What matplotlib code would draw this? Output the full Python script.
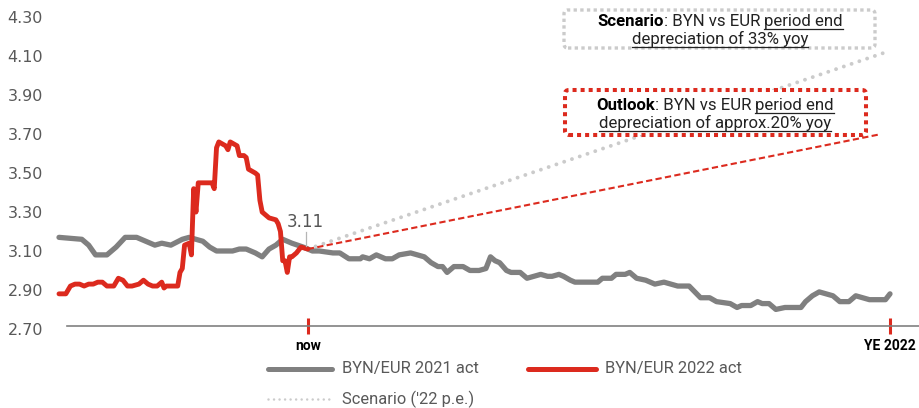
import matplotlib
matplotlib.use("Agg")
import matplotlib.pyplot as plt
from matplotlib.lines import Line2D
from matplotlib.patches import FancyBboxPatch
from matplotlib.transforms import IdentityTransform

W, H, DPI = 919, 408, 100

# ---------------- data ----------------
days_2021 = [0, 10, 13, 16, 21, 25, 29, 34, 38, 42, 45, 49, 54, 57, 60, 63, 66, 69, 76, 79,
             82, 86, 89, 92, 95, 98, 102, 107, 111, 114, 120, 123, 127, 132, 133, 136, 139, 143, 146, 149,
             154, 157, 160, 163, 166, 168, 170, 173, 177, 180, 184, 187, 189, 191, 193, 196, 198, 202, 205, 208,
             211, 214, 216, 219, 221, 224, 226, 229, 233, 236, 238, 242, 244, 248, 250, 253, 257, 259, 261, 265,
             268, 271, 276, 281, 285, 288, 294, 297, 299, 303, 306, 308, 311, 314, 318, 325, 327, 330, 333, 339,
             342, 346, 349, 352, 355, 362, 364]
byn_eur_2021 = [3.17, 3.16, 3.13, 3.08, 3.08, 3.12, 3.17, 3.17, 3.15, 3.13, 3.14, 3.13, 3.16, 3.17, 3.16, 3.15, 3.12, 3.10, 3.10, 3.11,
                3.11, 3.09, 3.07, 3.11, 3.13, 3.16, 3.14, 3.12, 3.10, 3.10, 3.09, 3.09, 3.06, 3.06, 3.07, 3.06, 3.08, 3.06, 3.06, 3.08,
                3.09, 3.08, 3.07, 3.04, 3.02, 3.02, 2.99, 3.02, 3.02, 3.00, 3.00, 3.01, 3.07, 3.05, 3.04, 3.00, 2.99, 2.99, 2.96, 2.97,
                2.98, 2.97, 2.97, 2.98, 2.97, 2.95, 2.94, 2.94, 2.94, 2.94, 2.96, 2.96, 2.98, 2.98, 2.99, 2.96, 2.95, 2.94, 2.93, 2.94,
                2.93, 2.92, 2.92, 2.86, 2.86, 2.84, 2.83, 2.81, 2.82, 2.82, 2.84, 2.83, 2.83, 2.80, 2.81, 2.81, 2.84, 2.87, 2.89, 2.87,
                2.84, 2.84, 2.87, 2.86, 2.85, 2.85, 2.88]

days_2022 = [0, 3, 5, 7, 9, 11, 13, 15, 17, 19, 21, 24, 26, 28, 30, 32, 35, 37, 39, 41,
             43, 45, 46, 47, 52, 53, 54, 55, 57, 58, 59, 60, 61, 67, 68, 69, 70, 73, 74, 75,
             78, 79, 81, 82, 83, 86, 87, 88, 89, 92, 95, 96, 97, 98, 99, 100, 101, 102, 104, 106, 109]
byn_eur_2022 = [2.88, 2.88, 2.92, 2.93, 2.93, 2.92, 2.93, 2.93, 2.94, 2.94, 2.92, 2.92, 2.96, 2.95, 2.92, 2.92, 2.93, 2.95, 2.93, 2.92,
                2.92, 2.94, 2.91, 2.92, 2.92, 2.99, 3.01, 3.13, 3.14, 3.08, 3.42, 3.30, 3.45, 3.45, 3.42, 3.63, 3.66, 3.64, 3.62, 3.66,
                3.64, 3.59, 3.59, 3.58, 3.52, 3.50, 3.49, 3.36, 3.30, 3.27, 3.26, 3.24, 3.20, 3.05, 3.05, 2.99, 3.07, 3.07, 3.09, 3.12, 3.11]

now_day, now_value = 109, 3.11
outlook_days = [109, 360]
outlook_values = [3.11, 3.70]
scenario_days = [109, 362]
scenario_values = [3.11, 4.12]

y_ticks = [2.70, 2.90, 3.10, 3.30, 3.50, 3.70, 3.90, 4.10, 4.30]
x_tick_days = [109, 364]
x_tick_labels = ["now", "YE 2022"]
legend_labels = ["BYN/EUR 2021 act", "BYN/EUR 2022 act", "Scenario ('22 p.e.)"]
scenario_note = [[("Scenario", "bold", False, False), (": BYN vs EUR", "normal", False, False), ("period end", "normal", True, True)],
                 [("depreciation of 33% yoy", "normal", True, False)]]
outlook_note = [[("Outlook", "bold", False, False), (": BYN vs EUR", "normal", False, False), ("period end", "normal", True, True)],
                [("depreciation of approx.20% yoy", "normal", True, False)]]

# ---------------- style ----------------
GRAY = "#808080"
RED = "#DC2A1E"
LIGHT = "#cbcbcb"
TXT = "#595959"
FONT = "Roboto"

fig = plt.figure(figsize=(W / DPI, H / DPI), dpi=DPI)
ax = fig.add_axes([50 / W, (H - 340) / H, (W - 50) / W, 335 / H])
ax.set_xlim(-3.94, 376.7)
ax.set_ylim(2.643, 4.363)

ax.plot(scenario_days, scenario_values, color=LIGHT, lw=2.8, linestyle=(0, (0.01, 2.1)),
        dash_capstyle="round", zorder=2)
ax.plot(days_2021, byn_eur_2021, color=GRAY, lw=3.8, solid_joinstyle="round", solid_capstyle="round", zorder=3)
ax.plot(days_2022, byn_eur_2022, color=RED, lw=3.5, solid_joinstyle="round", solid_capstyle="round", zorder=4)
ax.plot(outlook_days, outlook_values, color=RED, lw=1.5, dashes=(3, 1.6), zorder=5)

ax.text(now_day - 1, 3.25, f"{now_value:.2f}", ha="center", va="center", fontsize=12,
        color="#555555", family="DejaVu Sans")
ax.plot([now_day - 1, now_day - 1], [3.198, 3.125], color="#b5b5b5", lw=0.9, zorder=6)

for s in ["top", "right", "left"]:
    ax.spines[s].set_visible(False)
ax.spines["bottom"].set_position(("data", 2.717))
ax.spines["bottom"].set_bounds(3.5, 376.7)
ax.spines["bottom"].set_color(GRAY)
ax.spines["bottom"].set_linewidth(1.2)

ax.set_yticks(y_ticks)
ax.set_yticklabels([f"{v:.2f}" for v in y_ticks], fontsize=11.5, color=TXT, family="DejaVu Sans")
ax.tick_params(axis="y", length=0, pad=5)

ax.set_xticks(x_tick_days)
ax.set_xticklabels(x_tick_labels, fontsize=10, fontweight="bold", color="black", family=FONT)
ax.tick_params(axis="x", direction="inout", length=11, width=2.2, color=RED, pad=4)

# ---------------- legend (manual) ----------------
def fy(y):
    return H - y

idt = IdentityTransform()
fig.add_artist(Line2D([268, 332], [fy(369), fy(369)], transform=idt, color=GRAY, lw=3.6, solid_capstyle="round"))
fig.add_artist(Line2D([528, 596], [fy(369), fy(369)], transform=idt, color=RED, lw=3.6, solid_capstyle="round"))
fig.add_artist(Line2D([268, 330], [fy(399), fy(399)], transform=idt, color=LIGHT, lw=1.8,
                      linestyle=(0, (0.01, 2.2)), dash_capstyle="round"))
for (x, y), lab in zip([(342, 369), (605, 369), (342, 399)], legend_labels):
    fig.text(x, fy(y), lab, transform=idt, ha="left", va="center", fontsize=11.9, color=TXT, family=FONT)

# ---------------- annotation boxes ----------------
renderer = fig.canvas.get_renderer()

def text_width(s, weight, size):
    t = fig.text(0, 0, s, fontsize=size, fontweight=weight, family=FONT, transform=idt)
    w = t.get_window_extent(renderer).width
    t.remove()
    return w

def rich_line(cx, baseline, pieces, size, color="#222222"):
    space = text_width("a a", "normal", size) - text_width("aa", "normal", size)
    widths = [text_width(p[0], p[1], size) for p in pieces]
    total = sum(widths) + space * sum(1 for p in pieces if p[3])
    x = cx - total / 2
    y = fy(baseline)
    for (s, w, u, gap), wd in zip(pieces, widths):
        if gap:
            x += space
        fig.text(x, y, s, transform=idt, ha="left", va="baseline", fontsize=size,
                 fontweight=w, family=FONT, color="black" if w == "bold" else color, zorder=5)
        if u:
            fig.add_artist(Line2D([x, x + wd], [y - 2.5, y - 2.5], transform=idt, color=color, lw=0.9, zorder=5))
        x += wd

def note_box(x0, y0, x1, y1, ec, lw):
    p = FancyBboxPatch((x0, fy(y1)), x1 - x0, y1 - y0, boxstyle="round,pad=0,rounding_size=4",
                       transform=idt, fc="white", ec=ec, lw=lw, linestyle=(0, (1, 1)), zorder=3)
    fig.add_artist(p)

note_box(564, 10, 875, 48, LIGHT, 2.4)
rich_line(720, 26, scenario_note[0], 12.1)
rich_line(720, 44, scenario_note[1], 12.1)

note_box(565, 90, 866, 135, RED, 2.9)
rich_line(715, 110, outlook_note[0], 12.1)
rich_line(715, 128, outlook_note[1], 12.1)

fig.savefig("out.png", dpi=DPI)
